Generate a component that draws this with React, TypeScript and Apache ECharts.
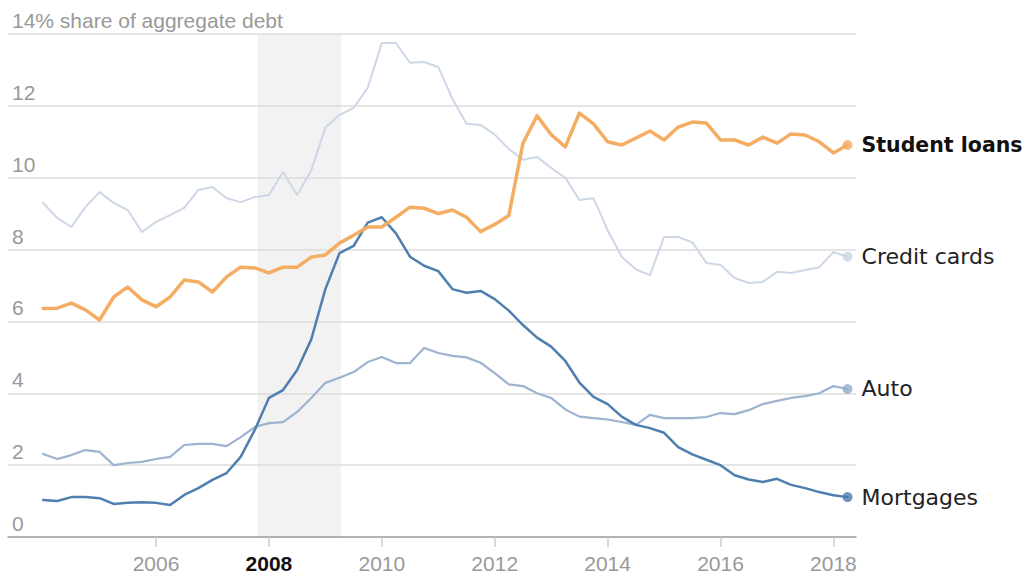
import React, { useEffect, useRef } from "react";
import * as echarts from "echarts";

// Quarterly data, 2004 Q1 – 2018 Q2
const START_YEAR = 2004;

const studentLoans = [
  6.36, 6.37, 6.51, 6.32, 6.04, 6.68, 6.96, 6.6, 6.41, 6.68,
  7.15, 7.1, 6.82, 7.24, 7.51, 7.49, 7.35, 7.51, 7.51, 7.79,
  7.85, 8.18, 8.4, 8.63, 8.63, 8.9, 9.18, 9.15, 9.0, 9.1,
  8.9, 8.5, 8.7, 8.95, 10.96, 11.72, 11.2, 10.86, 11.8, 11.5,
  11.0, 10.91, 11.1, 11.3, 11.05, 11.41, 11.55, 11.52, 11.05, 11.05,
  10.91, 11.13, 10.96, 11.22, 11.19, 11.0, 10.69, 10.91,
];

const creditCards = [
  9.3, 8.88, 8.63, 9.18, 9.6, 9.3, 9.1, 8.49, 8.77, 8.96,
  9.16, 9.66, 9.74, 9.43, 9.32, 9.46, 9.52, 10.16, 9.52, 10.2,
  11.4, 11.75, 11.94, 12.5, 13.75, 13.75, 13.2, 13.22, 13.08, 12.2,
  11.5, 11.47, 11.2, 10.8, 10.5, 10.58, 10.27, 10.0, 9.38, 9.43,
  8.54, 7.8, 7.45, 7.29, 8.35, 8.35, 8.2, 7.63, 7.57, 7.21,
  7.07, 7.1, 7.38, 7.35, 7.43, 7.51, 7.93, 7.8,
];

const autoLoans = [
  2.31, 2.17, 2.28, 2.42, 2.37, 2.0, 2.06, 2.09, 2.17, 2.23,
  2.56, 2.59, 2.59, 2.53, 2.78, 3.06, 3.17, 3.2, 3.48, 3.87,
  4.29, 4.43, 4.59, 4.87, 5.01, 4.84, 4.84, 5.26, 5.12, 5.04,
  5.0, 4.85, 4.56, 4.25, 4.2, 4.0, 3.87, 3.55, 3.35, 3.31,
  3.27, 3.2, 3.12, 3.4, 3.31, 3.31, 3.31, 3.34, 3.45, 3.42,
  3.53, 3.7, 3.79, 3.87, 3.92, 4.0, 4.2, 4.12,
];

const mortgages = [
  1.03, 1.0, 1.11, 1.11, 1.08, 0.92, 0.95, 0.97, 0.95, 0.89,
  1.17, 1.36, 1.59, 1.78, 2.23, 2.98, 3.87, 4.09, 4.65, 5.5,
  6.9, 7.9, 8.1, 8.75, 8.9, 8.45, 7.8, 7.55, 7.4, 6.9,
  6.8, 6.85, 6.62, 6.3, 5.9, 5.55, 5.3, 4.9, 4.3, 3.9,
  3.7, 3.35, 3.12, 3.03, 2.9, 2.5, 2.3, 2.15, 2.0, 1.72,
  1.6, 1.53, 1.62, 1.45, 1.36, 1.25, 1.16, 1.11,
];

const xTicks = [2006, 2008, 2010, 2012, 2014, 2016, 2018];
const yTicks = [0, 2, 4, 6, 8, 10, 12, 14];
const recession = [2007.8, 2009.28];

const AXIS_FONT = "Liberation Sans";
const LABEL_FONT = "DejaVu Sans";

function toPairs(values: number[]) {
  return values.map((v, i) => [START_YEAR + i / 4, v]);
}

export default function App() {
  const ref = useRef<HTMLDivElement>(null);

  useEffect(() => {
    if (!ref.current) return;
    const chart = echarts.init(ref.current, null, { renderer: "svg" });

    const mk = (
      name: string,
      values: number[],
      color: string,
      width: number,
      dotColor: string,
      bold: boolean,
      z: number
    ) => {
      const data = toPairs(values);
      return [
        {
          name,
          type: "line",
          data,
          symbol: "none",
          z,
          lineStyle: { color, width, join: "round", cap: "round" },
          endLabel: {
            show: true,
            formatter: name,
            distance: 14,
            fontFamily: LABEL_FONT,
            fontSize: bold ? 20.5 : 22,
            fontWeight: bold ? "bold" : "normal",
            color: bold ? "#111" : "#222",
          },
        },
        {
          name: name + " end",
          type: "scatter",
          data: [data[data.length - 1]],
          symbol: "circle",
          symbolSize: 10,
          z: z + 1,
          itemStyle: { color: dotColor },
        },
      ];
    };

    chart.setOption({
      animation: false,
      grid: { left: 8, right: 169, top: 34, bottom: 42 },
      xAxis: {
        type: "value",
        min: 2003.378,
        max: 2018.4,
        z: 20,
        axisLine: { show: true, lineStyle: { color: "#999", width: 1.5 } },
        axisTick: {
          show: true,
          customValues: xTicks,
          length: 10,
          lineStyle: { color: "#ccc", width: 1.5 },
        },
        axisLabel: {
          customValues: xTicks,
          margin: 16,
          fontFamily: AXIS_FONT,
          fontSize: 21,
          color: "#999",
          formatter: (v: number) => (v === 2008 ? "{b|2008}" : String(v)),
          rich: {
            b: {
              fontFamily: AXIS_FONT,
              fontSize: 21,
              fontWeight: "bold",
              color: "#111",
            },
          },
        },
        splitLine: { show: false },
      },
      yAxis: {
        type: "value",
        min: yTicks[0],
        max: yTicks[yTicks.length - 1],
        interval: 2,
        axisLine: { show: false },
        axisTick: { show: false },
        splitLine: { show: false },
        axisLabel: {
          inside: true,
          margin: 4,
          verticalAlign: "bottom",
          padding: [0, 0, 3, 0],
          fontFamily: AXIS_FONT,
          fontSize: 21,
          color: "#999",
          formatter: (v: number) =>
            v === 14 ? "14% share of aggregate debt" : String(v),
        },
      },
      series: [
        {
          name: "recession",
          type: "line",
          data: [],
          z: 1,
          markArea: {
            silent: true,
            z: 1,
            itemStyle: { color: "#f2f2f2" },
            data: [[{ xAxis: recession[0] }, { xAxis: recession[1] }]],
          },
          markLine: {
            silent: true,
            z: 3,
            symbol: ["none", "none"],
            label: { show: false },
            lineStyle: { color: "#dcdcdc", width: 1.5, type: "solid" },
            data: yTicks.slice(1).map((v) => ({ yAxis: v })),
          },
        },
        ...mk("Credit cards", creditCards, "#cdd7e6", 2, "#c9d4e4", false, 6),
        ...mk("Auto", autoLoans, "#9db3cf", 2.2, "#92abcb", false, 8),
        ...mk("Mortgages", mortgages, "#4f7faf", 2.5, "#4a7cae", false, 10),
        ...mk("Student loans", studentLoans, "#f4ad63", 3.5, "#f4ad63", true, 12),
      ],
    });

    return () => chart.dispose();
  }, []);

  return (
    <div
      ref={ref}
      style={{ position: "fixed", left: 0, top: 0, width: 1025, height: 579, background: "#fff" }}
    />
  );
}
